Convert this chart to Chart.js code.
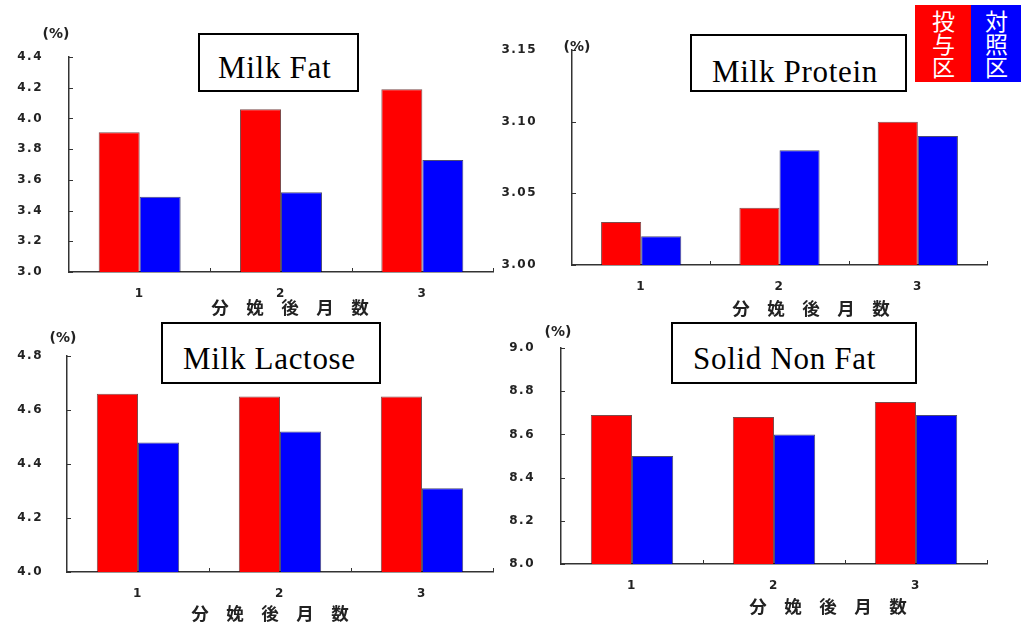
<!DOCTYPE html>
<html>
<head>
<meta charset="utf-8">
<script src="https://cdn.jsdelivr.net/npm/chart.js@4.4.1/dist/chart.umd.min.js"></script>
<style>
  html, body { margin: 0; padding: 0; background: #fff; }
  #wrap { position: relative; width: 1021px; height: 625px; overflow: hidden; background: #fff; }
  canvas.panel { position: absolute; left: 0; top: 0; }
  .box { position: absolute; border: 2px solid #000; background: #fff; box-sizing: border-box;
         font-family: "Liberation Serif", "Times New Roman", serif; font-size: 31px; color: #000;
         white-space: nowrap; line-height: 1; letter-spacing: 0.7px; }
  .box span { position: absolute; }
  .unit { position: absolute; font: bold 14px "DejaVu Sans", sans-serif; color: #222;
          transform: translate(-50%, -50%); white-space: nowrap; }
  .xtitle { position: absolute; font: bold 17.5px "Noto Sans CJK JP", sans-serif; color: #222;
            transform: translate(-50%, -50%); white-space: nowrap; line-height: 1; }
  #legend { position: absolute; left: 915px; top: 5px; height: 77px; display: flex; }
  #legend div { height: 100%; color: #fff; font: 23px/23px "Noto Sans CJK JP", sans-serif;
                writing-mode: vertical-rl; text-orientation: upright; display: flex;
                align-items: center; justify-content: flex-start; padding-top: 5px; box-sizing: border-box; }
</style>
</head>
<body>
<div id="wrap">
  <canvas class="panel" id="cFat" width="1021" height="625"></canvas>
  <canvas class="panel" id="cProtein" width="1021" height="625"></canvas>
  <canvas class="panel" id="cLactose" width="1021" height="625"></canvas>
  <canvas class="panel" id="cSnf" width="1021" height="625"></canvas>

  <div class="box" style="left:198px;top:33px;width:161px;height:59px;"><span style="left:18px;top:17px;">Milk Fat</span></div>
  <div class="box" style="left:690px;top:34px;width:217px;height:58px;"><span style="left:20px;top:20px;">Milk Protein</span></div>
  <div class="box" style="left:161px;top:322px;width:220px;height:62px;"><span style="left:20px;top:19px;">Milk Lactose</span></div>
  <div class="box" style="left:671px;top:322px;width:246px;height:62px;"><span style="left:20px;top:19px;">Solid Non Fat</span></div>

  <div class="unit" style="left:56px;top:33px;">(%)</div>
  <div class="unit" style="left:577px;top:46px;">(%)</div>
  <div class="unit" style="left:63px;top:337px;">(%)</div>
  <div class="unit" style="left:558px;top:331px;">(%)</div>

  <div class="xtitle" style="left:290px;top:307px;">分　娩　後　月　数</div>
  <div class="xtitle" style="left:811px;top:308px;">分　娩　後　月　数</div>
  <div class="xtitle" style="left:270px;top:613px;">分　娩　後　月　数</div>
  <div class="xtitle" style="left:828px;top:606px;">分　娩　後　月　数</div>

  <div id="legend"></div>
</div>
<script>
// Months after calving
const months = ['1', '2', '3'];
const seriesNames = ['投与区', '対照区'];
const seriesColors = ['#ff0000', '#0000ff'];

// Milk fat (%)
const fatTreated = [3.91, 4.06, 4.19];
const fatControl = [3.49, 3.52, 3.73];
const fatTicks = [3.0, 3.2, 3.4, 3.6, 3.8, 4.0, 4.2, 4.4];

// Milk protein (%)
const proteinTreated = [3.03, 3.04, 3.10];
const proteinControl = [3.02, 3.08, 3.09];
const proteinTicks = [3.00, 3.05, 3.10, 3.15];

// Milk lactose (%)
const lactoseTreated = [4.66, 4.65, 4.65];
const lactoseControl = [4.48, 4.52, 4.31];
const lactoseTicks = [4.0, 4.2, 4.4, 4.6, 4.8];

// Solids-not-fat (%)
const snfTreated = [8.69, 8.68, 8.75];
const snfControl = [8.50, 8.60, 8.69];
const snfTicks = [8.0, 8.2, 8.4, 8.6, 8.8, 9.0];

const PAGE_W = 1021, PAGE_H = 625;
const Y_W = 80, X_H = 40;

// small inward tick marks on both axes
const axisMarks = {
  id: 'axisMarks',
  afterDraw(chart) {
    const { ctx, chartArea: a, scales: { x, y } } = chart;
    ctx.save();
    ctx.strokeStyle = '#333';
    ctx.lineWidth = 1;
    ctx.beginPath();
    y.ticks.forEach(t => {
      const py = Math.round(y.getPixelForValue(t.value)) + 0.5;
      ctx.moveTo(a.left, py); ctx.lineTo(a.left + 4, py);
    });
    for (let i = 0; i < x.ticks.length; i++) {
      const px = Math.round(x.getPixelForValue(i + 0.5)) + 0.5;
      ctx.moveTo(px, a.bottom); ctx.lineTo(px, a.bottom - 4);
    }
    ctx.stroke();
    ctx.restore();
  }
};

// wider letter spacing for the axis numerals
const numeralSpacing = {
  id: 'numeralSpacing',
  beforeInit(chart) { chart.ctx.letterSpacing = '1.5px'; },
  beforeDraw(chart) { chart.ctx.letterSpacing = '1.5px'; }
};

function makePanel(id, treated, control, ticks, decimals, area, labelGap) {
  new Chart(document.getElementById(id), {
    type: 'bar',
    data: {
      labels: months,
      datasets: [
        { label: seriesNames[0], data: treated, backgroundColor: seriesColors[0],
          borderColor: 'rgba(70,0,0,0.7)', borderWidth: 1 },
        { label: seriesNames[1], data: control, backgroundColor: seriesColors[1],
          borderColor: 'rgba(0,0,60,0.7)', borderWidth: 1 }
      ]
    },
    options: {
      responsive: false,
      animation: false,
      devicePixelRatio: 1,
      events: [],
      datasets: { bar: { categoryPercentage: 0.58, barPercentage: 1.0 } },
      layout: {
        padding: {
          left: area.l - Y_W,
          right: PAGE_W - area.r,
          top: area.t,
          bottom: PAGE_H - area.b - X_H
        }
      },
      plugins: { legend: { display: false }, tooltip: { enabled: false } },
      scales: {
        x: {
          offset: true,
          grid: { display: false, drawTicks: false },
          border: { display: true, color: '#333', width: 1.5 },
          ticks: { padding: 15, color: '#222', font: { family: 'DejaVu Sans', weight: 'bold', size: 12 } },
          afterFit(s) { s.height = X_H; }
        },
        y: {
          min: ticks[0],
          max: ticks[ticks.length - 1],
          grid: { display: false, drawTicks: false },
          border: { display: true, color: '#333', width: 1.5 },
          afterBuildTicks(s) { s.ticks = ticks.map(v => ({ value: v })); },
          ticks: {
            padding: labelGap,
            color: '#222',
            font: { family: 'DejaVu Sans', weight: 'bold', size: 12 },
            callback: v => Number(v).toFixed(decimals)
          },
          afterFit(s) { s.width = Y_W; }
        }
      }
    },
    plugins: [numeralSpacing, axisMarks]
  });
}

makePanel('cFat', fatTreated, fatControl, fatTicks, 1, { l: 69, r: 493, t: 57, b: 272 }, 26);
makePanel('cProtein', proteinTreated, proteinControl, proteinTicks, 2, { l: 572, r: 987, t: 50, b: 265 }, 35);
makePanel('cLactose', lactoseTreated, lactoseControl, lactoseTicks, 1, { l: 67, r: 493, t: 356, b: 572 }, 24);
makePanel('cSnf', snfTreated, snfControl, snfTicks, 1, { l: 561, r: 987, t: 348, b: 564 }, 26);

// series key built from the same names and colours
const legend = document.getElementById('legend');
const keyWidths = [56, 50];
seriesNames.forEach((name, i) => {
  const d = document.createElement('div');
  d.textContent = name;
  d.style.background = seriesColors[i];
  d.style.width = keyWidths[i] + 'px';
  legend.appendChild(d);
});
</script>
</body>
</html>
